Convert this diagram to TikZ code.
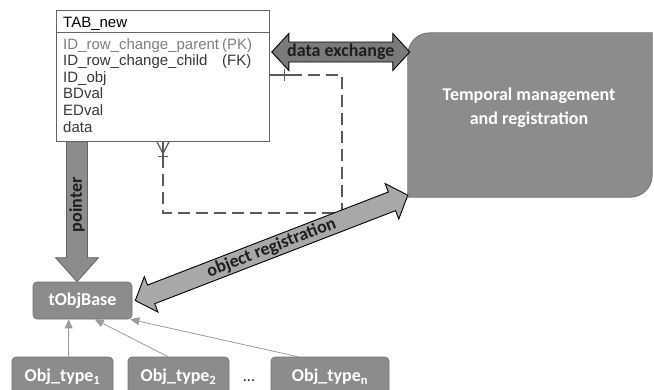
\documentclass[tikz,border=0pt]{standalone}
\usepackage{fontspec}
\setmainfont{Liberation Sans}
\newfontfamily\labelfont{Carlito}
\usetikzlibrary{calc,arrows.meta}

\definecolor{boxgray}{RGB}{140,140,142}
\definecolor{boxedge}{RGB}{112,112,114}
\definecolor{xchgfill}{RGB}{122,122,122}
\definecolor{regfill}{RGB}{168,168,168}
\definecolor{ptrfill}{RGB}{140,140,140}
\definecolor{ptredge}{RGB}{100,100,100}
\definecolor{linkgray}{RGB}{155,155,155}
\definecolor{dashgray}{RGB}{90,90,90}
\definecolor{tabedge}{RGB}{100,100,100}
\definecolor{keytext}{RGB}{125,125,125}
\definecolor{fieldtext}{RGB}{55,55,55}
\definecolor{labeltext}{RGB}{30,30,30}

% fat double-headed arrow from #2 to #3: style #1, shaft half-width #4,
% head half-width #5, head length #6
\newcommand\fatdouble[6]{%
  \coordinate (fa-p) at ($(#2)!#6!(#3)$);
  \coordinate (fa-q) at ($(#3)!#6!(#2)$);
  \draw[#1] (#2) -- ($(fa-p)!#5!90:(#3)$) -- ($(fa-p)!#4!90:(#3)$)
    -- ($(fa-q)!#4!90:(#3)$) -- ($(fa-q)!#5!90:(#3)$) -- (#3)
    -- ($(fa-q)!#5!-90:(#3)$) -- ($(fa-q)!#4!-90:(#3)$)
    -- ($(fa-p)!#4!-90:(#3)$) -- ($(fa-p)!#5!-90:(#3)$) -- cycle;
}
% fat single-headed arrow from #2 to #3, same parameters
\newcommand\fatsingle[6]{%
  \coordinate (fa-q) at ($(#3)!#6!(#2)$);
  \draw[#1] ($(#2)!#4!90:(#3)$) -- ($(fa-q)!#4!90:(#3)$)
    -- ($(fa-q)!#5!90:(#3)$) -- (#3)
    -- ($(fa-q)!#5!-90:(#3)$) -- ($(fa-q)!#4!-90:(#3)$)
    -- ($(#2)!#4!-90:(#3)$) -- cycle;
}

\begin{document}
\begin{tikzpicture}[x=1pt,y=1pt,
  field/.style={anchor=base west, inner sep=0pt,
    font=\fontsize{15}{18}\selectfont, text=fieldtext},
  graybox/.style={fill=boxgray, draw=boxedge, line width=0.6pt,
    rounded corners=4pt, text=white, inner sep=0pt,
    font=\labelfont\bfseries\fontsize{18}{22}\selectfont},
  arrowlabel/.style={inner sep=0pt, text=labeltext,
    font=\labelfont\bfseries\fontsize{18}{22}\selectfont},
  link/.style={draw=linkgray, line width=0.8pt,
    -{Triangle[length=9pt,width=8pt,fill=linkgray]}},
  relation/.style={draw=dashgray, line width=1.2pt},
]
\useasboundingbox (0,0) rectangle (654,-389);
\clip (0,0) rectangle (654,-389);

% ---- table TAB_new ----
\node[draw=tabedge, line width=0.8pt, minimum width=213pt,
  minimum height=131pt, anchor=north west, inner sep=0pt] (tab) at (56,-10) {};
\draw[tabedge, line width=0.8pt] (tab.north west |- 0,-32) -- (tab.north east |- 0,-32);
\node[field, text=black] (tabname) at (63,-27) {TAB\_new};
\node[field, text=keytext] (f1) at (63,-49)
  {\makebox[159pt][l]{ID\_row\_change\_parent}(PK)};
\node[field] (f2) at (63,-65.6)
  {\makebox[159pt][l]{ID\_row\_change\_child}(FK)};
\node[field] (f3) at (63,-82.2) {ID\_obj};
\node[field] (f4) at (63,-98.8) {BDval};
\node[field] (f5) at (63,-115.4) {EDval};
\node[field] (f6) at (63,-132) {data};

% ---- self relation of the table ----
\coordinate (r0) at ($(tab.north east)+(0,-65)$);
\coordinate (r1) at ($(r0)+(20,0)$);
\coordinate (r2) at (342,-75);
\coordinate (r3) at (342,-213);
\coordinate (r4) at (163,-213);
\coordinate (r5) at (163,-162);
\coordinate (r6) at (tab.south -| r5);
\draw[relation] (r0) -- (r1);
\draw[relation, dash pattern=on 12pt off 6pt] (r1) -- (r2) -- (r3) -- (r4) -- (r5);
\draw[relation] (r5) -- (r6);
\draw[relation] ($(r0)+(15,6)$) -- ($(r0)+(15,-6)$);
\draw[relation] ($(r6)+(-6,0)$) -- ($(r6)+(0,-12)$) -- ($(r6)+(6,0)$);
\draw[relation] ($(r6)+(-5,-15)$) -- ($(r6)+(5,-15)$);

% ---- temporal management block ----
\node[minimum width=244pt, minimum height=164pt, inner sep=0pt] (tm) at (530,-115) {};
\draw[fill=boxgray, draw=boxedge, line width=0.8pt]
  (tm.south west) -- ([yshift=-22pt]tm.north west)
  arc[start angle=180, end angle=90, radius=22pt]
  -- (tm.north east) -- ([yshift=22pt]tm.south east)
  arc[start angle=0, end angle=-90, radius=22pt] -- cycle;
\node[align=center, text=white, inner sep=0pt,
  font=\labelfont\bfseries\fontsize{18}{24}\selectfont] (tmtext) at (529,-108)
  {Temporal management\\and registration};

% ---- tObjBase and object types ----
\node[graybox, minimum width=99pt, minimum height=37pt] (tob) at (82.5,-300.5) {tObjBase};
\node[graybox, minimum width=101pt, minimum height=40pt] (ob1) at (62.5,-377) {Obj\_type\textsubscript{1}};
\node[graybox, minimum width=101pt, minimum height=40pt] (ob2) at (178.5,-377) {Obj\_type\textsubscript{2}};
\node[graybox, minimum width=118pt, minimum height=40pt] (obn) at (330,-377) {Obj\_type\textsubscript{n}};
\node[inner sep=0pt, text=labeltext, font=\labelfont\fontsize{16}{18}\selectfont] (dots) at (249,-381) {...};

\draw[link] ($(ob1.north)+(6,0)$) -- ($(tob.south west)+(36,0)$);
\draw[link] ($(ob2.north)+(-10.5,0)$) -- ($(tob.south west)+(62,0)$);
\draw[link] ($(obn.north)+(-32,0)$) -- ($(tob.south east)+(-2,0)$);

% ---- pointer ----
\coordinate (ptrA) at ($(tab.south west)+(21,0)$);
\coordinate (ptrB) at (ptrA |- tob.north);
\fatsingle{fill=ptrfill, draw=ptredge, line width=0.8pt}{ptrA}{ptrB}{10.5pt}{21.5pt}{24pt}
\path (ptrB) -- (ptrA) node[arrowlabel, sloped, pos=0.55] (ptrlabel) {pointer};

% ---- data exchange ----
\coordinate (dxA) at ($(tab.north east)+(2,-42)$);
\coordinate (dxB) at ($(dxA -| tm.west)+(2,0)$);
\fatdouble{fill=xchgfill, draw=black, line width=0.9pt}{dxA}{dxB}{10pt}{18.5pt}{17pt}
\path (dxA) -- (dxB) node[arrowlabel, midway] (dxlabel) {data exchange};

% ---- object registration ----
\coordinate (orA) at ($(tob.east)+(3,0)$);
\coordinate (orB) at ($(tm.south west)+(0,2)$);
\fatdouble{fill=regfill, draw=black, line width=0.9pt}{orA}{orB}{10pt}{19pt}{17pt}
\path (orA) -- (orB) node[arrowlabel, sloped, pos=0.5] (orlabel) {object registration};
\end{tikzpicture}
\end{document}
